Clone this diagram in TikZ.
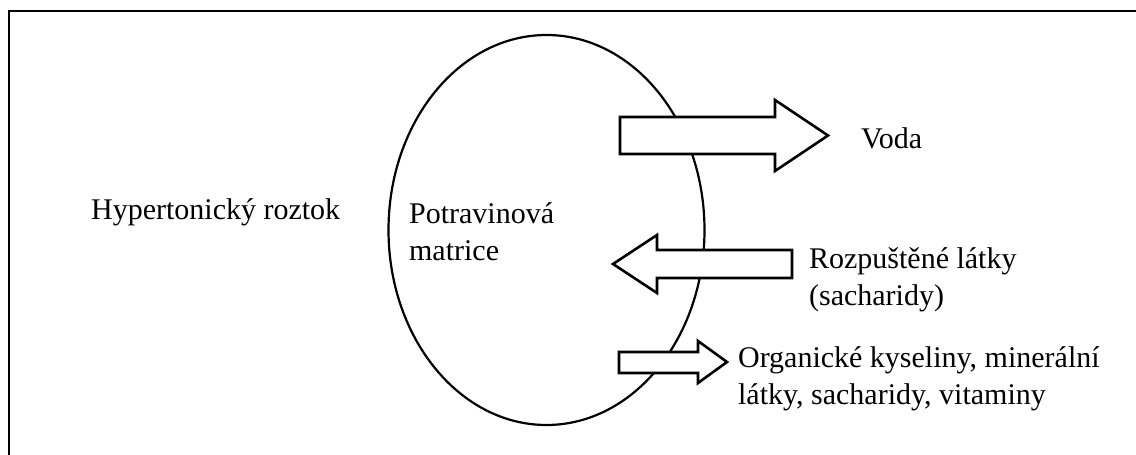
\documentclass[tikz,border=0pt]{standalone}
\usepackage{fontspec}
\setmainfont{Liberation Serif}
\usetikzlibrary{shapes.geometric}

\begin{document}
\begin{tikzpicture}[x=1pt,y=-1pt,line width=2.2pt,
                    txt/.style={inner sep=0pt,anchor=base west,align=left,font=\fontsize{30}{37}\selectfont},
                    blockarrow/.style={draw,fill=white,line width=2.6pt,line join=miter}]
  \useasboundingbox (0,0) rectangle (1136,455);

  % frame (cut off on the right and at the bottom)
  \draw[line width=2.6pt] (9,455) -- (9,11) -- (1136,11);

  \node[draw,ellipse,minimum width=316pt,minimum height=390pt,inner sep=0pt] (food) at (546.5,230) {};

  % base of a two-line node = baseline of its last line
  \node[txt] (roztok) at (90,219) {Hypertonický roztok};
  \node[txt] (matrice) at (408,260) {Potravinová\\matrice};
  \node[txt] (voda) at (860,148) {Voda};
  \node[txt] (latky) at (808,305) {Rozpuštěné látky\\(sacharidy)};
  \node[txt] (kyseliny) at (737,404) {Organické kyseliny, minerální\\látky, sacharidy, vitaminy};

  % block arrows
  \draw[blockarrow] (620,117) -- (775,117) -- (775,100) -- (828,135.5)
    -- (775,171) -- (775,154) -- (620,154) -- cycle;
  \draw[blockarrow] (792,250) -- (657,250) -- (657,235) -- (613,264)
    -- (657,293) -- (657,278) -- (792,278) -- cycle;
  \draw[blockarrow] (619,352) -- (698,352) -- (698,341) -- (727,362)
    -- (698,383) -- (698,373) -- (619,373) -- cycle;
\end{tikzpicture}
\end{document}
